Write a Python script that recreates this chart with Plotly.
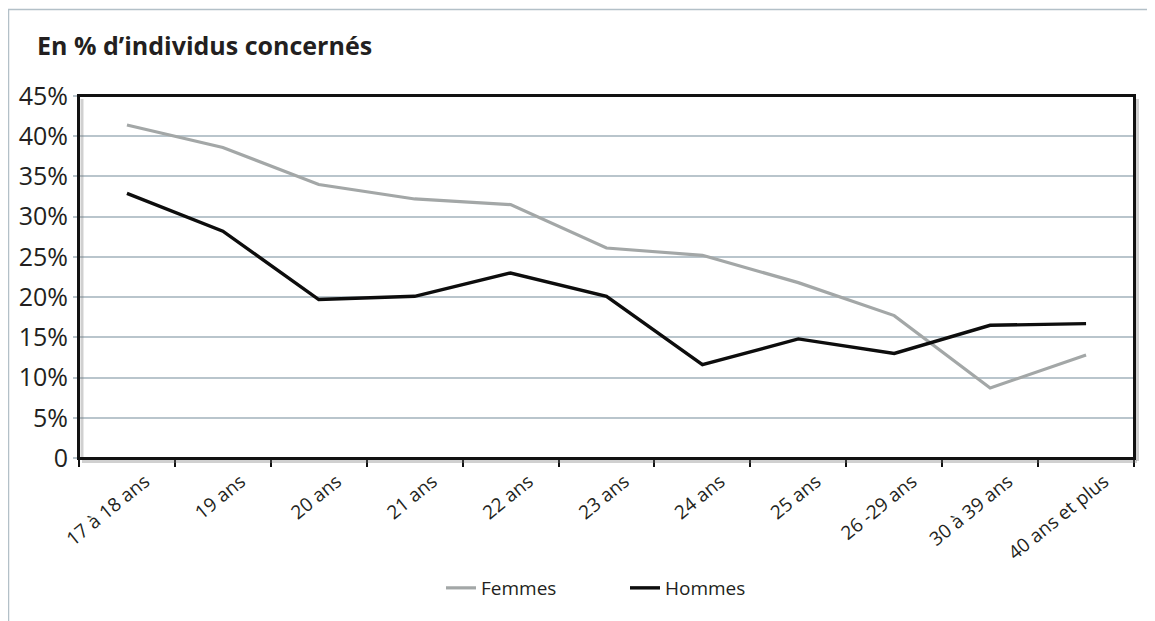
import plotly.graph_objects as go

categories = ["17 à 18 ans", "19 ans", "20 ans", "21 ans", "22 ans", "23 ans",
              "24 ans", "25 ans", "26 -29 ans", "30 à 39 ans", "40 ans et plus"]
femmes = [41.4, 38.6, 34.0, 32.2, 31.5, 26.1, 25.2, 21.8, 17.7, 8.7, 12.8]
hommes = [32.9, 28.2, 19.7, 20.1, 23.0, 20.1, 11.6, 14.8, 13.0, 16.5, 16.7]
ytickvals = [0, 5, 10, 15, 20, 25, 30, 35, 40, 45]
yticktext = ["0", "5%", "10%", "15%", "20%", "25%", "30%", "35%", "40%", "45%"]

W, H = 1155, 621
OFF = 8  # page body margin
L = 79 - OFF
T = 96 - OFF
R = W - (1134 - OFF)
B = H - (458 - OFF)
pw, ph = W - L - R, H - T - B

def px(x):
    return (x - OFF - L) / pw

def py(y):
    return (H - B - (y - OFF)) / ph

FONT = "Open Sans"
TXT = "#231f20"

fig = go.Figure()
fig.add_trace(go.Scatter(x=categories, y=femmes, mode="lines", name="Femmes",
                         line=dict(color="#a3a7a7", width=3.2)))
fig.add_trace(go.Scatter(x=categories, y=hommes, mode="lines", name="Hommes",
                         line=dict(color="#0d0d0d", width=3.4)))

shapes = []
shapes.append(dict(type="rect", xref="paper", yref="paper",
                   x0=px(8.5), x1=px(1175), y0=py(640), y1=py(9.5),
                   line=dict(color="#b3c0c8", width=1.5), layer="below"))
shadow = "rgba(120,120,120,0.35)"
shapes.append(dict(type="line", xref="paper", yref="paper",
                   x0=px(82), x1=px(82), y0=py(99), y1=py(458), line=dict(color=shadow, width=3)))
shapes.append(dict(type="line", xref="paper", yref="paper",
                   x0=px(82), x1=px(1137), y0=py(461.5), y1=py(461.5), line=dict(color=shadow, width=3)))
shapes.append(dict(type="line", xref="paper", yref="paper",
                   x0=px(1137.5), x1=px(1137.5), y0=py(99), y1=py(461), line=dict(color=shadow, width=3)))
shapes.append(dict(type="rect", xref="paper", yref="paper", x0=0, x1=1, y0=0, y1=1,
                   line=dict(color="#111111", width=2), layer="above"))

fig.update_layout(
    width=W, height=H,
    margin=dict(l=L, r=R, t=T, b=B),
    paper_bgcolor="white", plot_bgcolor="white",
    font=dict(family=FONT, color=TXT),
    showlegend=True,
    legend=dict(orientation="h", x=px(441), xanchor="left", y=py(588), yanchor="middle",
                font=dict(size=19, family=FONT, color=TXT),
                entrywidth=139, entrywidthmode="pixels",
                bgcolor="rgba(0,0,0,0)"),
    shapes=shapes,
    annotations=[dict(text="<b>En % d’individus concernés</b>", xref="paper", yref="paper",
                      x=px(35), y=py(45), xanchor="left", yanchor="middle", showarrow=False,
                      font=dict(size=25, family=FONT, color=TXT))],
)
fig.update_xaxes(type="category", range=[-0.5, 10.5], showgrid=False,
                 ticks="outside", tickson="boundaries", ticklen=7, tickwidth=1.5, tickcolor="#111111",
                 tickangle=-39, tickfont=dict(size=19, family=FONT, color=TXT),
                 ticklabelshift=18, ticklabelstandoff=3,
                 showline=True, linecolor="#111111", linewidth=2, mirror=True, fixedrange=True)
fig.update_yaxes(range=[0, 45], tickvals=ytickvals, ticktext=yticktext,
                 showgrid=True, gridcolor="#b9c5cc", gridwidth=2,
                 ticks="outside", ticklen=4, tickcolor="#b9c5cc", tickwidth=1.5,
                 tickfont=dict(size=25, family=FONT, color=TXT),
                 showline=True, linecolor="#111111", linewidth=2, mirror=True,
                 zeroline=False, fixedrange=True)

fig.write_html("out.html")
